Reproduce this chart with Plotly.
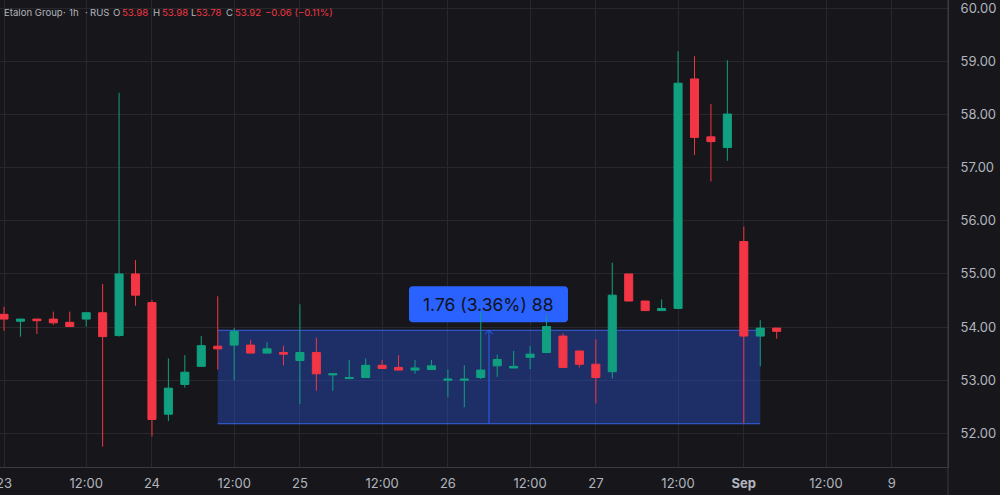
import plotly.graph_objects as go

# ---- data (1h bars, index = bar number on the compressed time axis) ----
bar_index = list(range(48))
opens = [54.24, 54.11, 54.15, 54.15, 54.09, 54.15, 54.27, 53.84, 55.00, 54.46,
         52.36, 52.92, 53.26, 53.64, 53.66, 53.66, 53.51, 53.52, 53.37, 53.52,
         53.10, 53.03, 53.05, 53.28, 53.24, 53.19, 53.20, 53.00, 53.00, 53.05,
         53.27, 53.23, 53.43, 53.52, 53.83, 53.55, 53.30, 53.16, 55.00, 54.49,
         54.31, 54.35, 58.67, 57.58, 57.38, 55.61, 53.83, 53.98]
highs = [54.38, 54.15, 54.15, 54.29, 54.29, 54.27, 54.81, 58.41, 55.26, 54.51,
         53.41, 53.47, 53.83, 54.58, 53.98, 53.76, 53.72, 53.65, 54.43, 53.80,
         53.12, 53.38, 53.41, 53.38, 53.47, 53.38, 53.38, 53.20, 53.28, 54.28,
         53.48, 53.55, 53.64, 54.23, 53.88, 53.55, 53.77, 55.21, 55.00, 54.49,
         54.52, 59.19, 59.10, 58.20, 59.02, 55.89, 54.13, 53.98]
lows = [53.93, 53.82, 53.87, 54.04, 54.00, 54.01, 51.75, 53.82, 54.40, 51.94,
        52.23, 52.86, 53.26, 53.20, 53.00, 53.50, 53.50, 53.28, 52.55, 52.80,
        52.80, 53.03, 53.05, 53.22, 53.19, 53.12, 53.20, 52.68, 52.49, 53.02,
        53.06, 53.23, 53.21, 53.52, 53.24, 53.24, 52.56, 53.03, 54.49, 54.31,
        54.31, 54.35, 57.24, 56.74, 57.13, 52.19, 53.26, 53.78]
closes = [54.15, 54.15, 54.12, 54.08, 54.01, 54.27, 53.82, 55.00, 54.60, 52.26,
          52.85, 53.15, 53.65, 53.59, 53.92, 53.51, 53.59, 53.49, 53.52, 53.12,
          53.12, 53.05, 53.28, 53.22, 53.19, 53.23, 53.27, 53.02, 53.02, 53.19,
          53.39, 53.26, 53.49, 54.01, 53.24, 53.30, 53.05, 54.60, 54.49, 54.31,
          54.35, 58.59, 57.57, 57.49, 58.01, 53.83, 53.98, 53.92]

tick_positions = [0, 5, 9, 14, 18, 23, 27, 32, 36, 41, 45, 50, 54]
tick_labels = ["23", "12:00", "24", "12:00", "25", "12:00", "26", "12:00",
               "27", "12:00", "<b>Sep</b>", "12:00", "9"]
price_ticks = [52, 53, 54, 55, 56, 57, 58, 59, 60]

# measurement ruler
ruler_start, ruler_end = 13, 46
ruler_low, ruler_high = 52.18, 53.94
ruler_text = "1.76 (3.36%) 88"

# header (legend line)
header_title_parts = ["Etalon Group", "·", "1h", "·", "RUS"]
header_keys = ["O", "H", "L", "C"]
header_vals = ["53.98", "53.98", "53.78", "53.92"]
header_change = "−0.06 (−0.11%)"

BG = "#17171b"
GRID = "#27272c"
AXLINE = "#3a3a40"
TXT = "#b2b5be"
UP = "#10a080"
DOWN = "#f23645"
BLUE = "#2962ff"

PLOT_W = 948
HFONT = 9.6

fig = go.Figure()
fig.add_trace(go.Candlestick(
    x=bar_index, open=opens, high=highs, low=lows, close=closes,
    increasing=dict(line=dict(color=UP, width=1), fillcolor=UP),
    decreasing=dict(line=dict(color=DOWN, width=1), fillcolor=DOWN),
    whiskerwidth=0, hoverinfo="skip", showlegend=False,
))

ruler_mid = (ruler_start + ruler_end) / 2
shapes = [
    dict(type="rect", xref="x", yref="y", x0=ruler_start, x1=ruler_end,
         y0=ruler_low, y1=ruler_high, fillcolor="rgba(41,98,255,0.33)",
         line=dict(width=0), layer="between"),
    dict(type="line", xref="x", yref="y", x0=ruler_start, x1=ruler_end,
         y0=ruler_high, y1=ruler_high, line=dict(color="rgba(60,110,255,0.85)", width=1), layer="between"),
    dict(type="line", xref="x", yref="y", x0=ruler_start, x1=ruler_end,
         y0=ruler_low, y1=ruler_low, line=dict(color="rgba(60,110,255,0.85)", width=1), layer="between"),
    dict(type="line", xref="x", yref="y", x0=ruler_mid, x1=ruler_mid,
         y0=ruler_low, y1=ruler_high, line=dict(color=BLUE, width=1), layer="between"),
    # arrow head
    dict(type="path", xref="x", yref="y", xsizemode="pixel", ysizemode="pixel",
         xanchor=ruler_mid, yanchor=ruler_high,
         path="M -4,-4 L 0,0 L 4,-4", line=dict(color=BLUE, width=1), layer="between"),
    # label box
    dict(type="path", xref="x", yref="y", xsizemode="pixel", ysizemode="pixel",
         xanchor=ruler_mid, yanchor=ruler_high,
         path="M -76,8 L 75,8 Q 79,8 79,12 L 79,40 Q 79,44 75,44 L -76,44 "
              "Q -80,44 -80,40 L -80,12 Q -80,8 -76,8 Z",
         fillcolor=BLUE, line=dict(width=0), layer="between"),
    # right-axis separator extending into the time-axis strip
    dict(type="line", xref="paper", yref="paper", x0=1, x1=1, y0=-0.07, y1=1,
         line=dict(color=AXLINE, width=1)),
]

annotations = [
    dict(x=ruler_mid, y=ruler_high, xref="x", yref="y", text=ruler_text,
         showarrow=False, yshift=26, font=dict(family="Inter", size=17.5, color="#10131c")),
]


def header_text(txt, px, color):
    return dict(x=px / PLOT_W, y=1, xref="paper", yref="paper", xanchor="left",
                yanchor="middle", yshift=-12, text=txt, showarrow=False,
                font=dict(family="Inter", size=HFONT, color=color))


for part, px in zip(header_title_parts, [2, 61, 67, 83, 88]):
    annotations.append(header_text(part, px, TXT))
for k, v, kx, vx in zip(header_keys, header_vals, [111, 151, 189, 224], [120, 160, 194, 233]):
    annotations.append(header_text(k, kx, TXT))
    annotations.append(header_text(v, vx, DOWN))
annotations.append(header_text(header_change, 263, DOWN))

fig.update_layout(
    width=1000, height=495,
    margin=dict(l=0, r=52, t=0, b=28, autoexpand=False),
    paper_bgcolor=BG, plot_bgcolor=BG,
    font=dict(family="Inter", size=13, color=TXT),
    shapes=shapes, annotations=annotations,
    boxgap=0.3,
    xaxis=dict(
        range=[-0.243, 57.42], tickmode="array", tickvals=tick_positions,
        ticktext=tick_labels, showgrid=True, gridcolor=GRID, gridwidth=1,
        zeroline=False, showline=True, linecolor=AXLINE, linewidth=1,
        rangeslider=dict(visible=False), ticks="", ticklabeloverflow="allow",
        ticklabelstandoff=4, tickfont=dict(family="Inter", size=13, color=TXT),
        fixedrange=True, automargin=False,
    ),
    yaxis=dict(
        side="right", range=[51.366, 60.156], tickmode="array", tickvals=price_ticks,
        ticktext=[f"{p:.2f}" for p in price_ticks], showgrid=True, gridcolor=GRID,
        gridwidth=1, zeroline=False, showline=True, linecolor=AXLINE, linewidth=1,
        ticks="", ticklabelstandoff=9, tickfont=dict(family="Inter", size=13, color=TXT),
        ticklabeloverflow="allow", fixedrange=True, automargin=False,
    ),
)

fig.write_html(
    "out.html",
    config={"displayModeBar": False},
    post_script="document.body.style.margin='0';document.body.style.background='" + BG + "';",
)
